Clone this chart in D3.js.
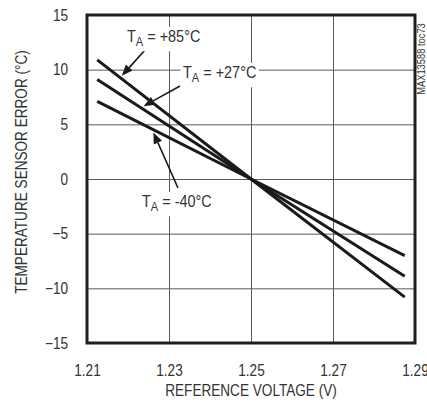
<!DOCTYPE html>
<html>
<head>
	<meta charset="UTF-8" />
	<title>temperature sensor error vs reference voltage</title>
	<script src="https://d3js.org/d3.v7.min.js"></script>
	<style type="text/css">
		body{margin:0; background:#fff;}
		svg text{font-family:"Liberation Sans Narrow","Liberation Sans",Arial,sans-serif; fill:#333;}
		.grid line{stroke:#5a5a5a; stroke-width:1;}
		.grid .domain{display:none;}
		.curve{fill:none; stroke:#1a1a1a; stroke-width:3;}
	</style>
</head>
<body>
	<svg id="chart"></svg>

	<script type="text/javascript">
	// data
	var voltage = [1.2125, 1.25, 1.2875]
	var err85 = [10.9, 0, -10.8]
	var err27 = [9.1, 0, -8.9]
	var errM40 = [7.1, 0, -7.0]
	var seriesNames = ["+85°C", "+27°C", "-40°C"]
	var xTicks = [1.21, 1.23, 1.25, 1.27, 1.29]
	var yTicks = [-15, -10, -5, 0, 5, 10, 15]

	// window
	var w = 427
	var h = 402
	var margin = {top: 15, right: 12, bottom: 59, left: 87}
	var width = w - margin.left - margin.right
	var height = h - margin.top - margin.bottom
	var squeeze = 0.85 // no condensed font installed, so squeeze text sideways

	var xScale = d3.scaleLinear().domain([1.21, 1.29]).range([0, width])
	var yScale = d3.scaleLinear().domain([-15, 15]).range([height, 0])

	var svg = d3.select("#chart").attr("width", w).attr("height", h)
	var g = svg.append("g").attr("transform", "translate(" + margin.left + "," + margin.top + ")")

	// grid + tick labels
	var yAxis = g.append("g").attr("class", "grid")
		.call(d3.axisLeft(yScale).tickValues(yTicks).tickFormat(d3.format("d"))
			.tickSizeInner(-width).tickSizeOuter(0).tickPadding(19))
	var xAxis = g.append("g").attr("class", "grid")
		.attr("transform", "translate(0," + height + ")")
		.call(d3.axisBottom(xScale).tickValues(xTicks).tickFormat(d3.format(".2f"))
			.tickSizeInner(-height).tickSizeOuter(0).tickPadding(19))
	g.selectAll(".grid text").style("font-size", "16px").attr("fill", "#333")
		.attr("transform", "scale(" + squeeze + ",1)")
	yAxis.selectAll("text").attr("x", -19 / squeeze)
	xAxis.selectAll("text").attr("y", 22)

	// series
	var series = [err85, err27, errM40]
	var line = d3.line().x((d, i) => xScale(voltage[i])).y(d => yScale(d))
	g.selectAll(".curve").data(series).enter().append("path")
		.attr("class", "curve").attr("d", d => line(d))

	// frame
	g.append("rect").attr("width", width).attr("height", height)
		.attr("fill", "none").attr("stroke", "#1e1e1e").attr("stroke-width", 3)

	// annotations
	function valueAt(s, v){
		return s[0] + (s[2] - s[0]) * (v - voltage[0]) / (voltage[2] - voltage[0])
	}
	var notes = [
		{s: 0, v: 1.2185, dy: -3, tail: [145, 50], tx: 127, ty: 42},
		{s: 1, v: 1.2238, dy: -3, tail: [180, 86], tx: 183, ty: 78},
		{s: 2, v: 1.2262, dy: 3, tail: [178, 188], tx: 142, ty: 207}
	]
	var ann = svg.append("g")
	notes.forEach(n => {
		var tipX = margin.left + xScale(n.v)
		var tipY = margin.top + yScale(valueAt(series[n.s], n.v)) + n.dy
		var dx = tipX - n.tail[0], dy = tipY - n.tail[1]
		var len = Math.sqrt(dx * dx + dy * dy)
		var ux = dx / len, uy = dy / len
		var hl = 11, hw = 4.5
		var bx = tipX - ux * hl, by = tipY - uy * hl
		ann.append("line").attr("x1", n.tail[0]).attr("y1", n.tail[1])
			.attr("x2", bx).attr("y2", by).attr("stroke", "#1a1a1a").attr("stroke-width", 1.6)
		ann.append("polygon")
			.attr("points", [[tipX, tipY], [bx - uy * hw, by + ux * hw], [bx + uy * hw, by - ux * hw]].map(p => p.join(",")).join(" "))
			.attr("fill", "#1a1a1a")

		var lg = ann.append("g").attr("transform", "translate(" + n.tx + "," + n.ty + ") scale(" + squeeze + ",1)")
		var bg = lg.append("rect").attr("fill", "#fff")
		var t = lg.append("text").style("font-size", "17px")
		t.append("tspan").text("T")
		t.append("tspan").text("A").style("font-size", "13px").attr("dy", 4)
		t.append("tspan").text(" = " + seriesNames[n.s]).attr("dy", -4)
		var b = t.node().getBBox()
		bg.attr("x", b.x - 3).attr("y", b.y).attr("width", b.width + 6).attr("height", b.height + 2)
	})

	// axis titles
	svg.append("text").attr("transform", "translate(" + (margin.left + width / 2) + ",396) scale(" + squeeze + ",1)")
		.attr("text-anchor", "middle").style("font-size", "16px").text("REFERENCE VOLTAGE (V)")
	svg.append("text").attr("transform", "translate(27,172) rotate(-90) scale(" + squeeze + ",1)")
		.attr("text-anchor", "middle").style("font-size", "16px").text("TEMPERATURE SENSOR ERROR (°C)")
	svg.append("text").attr("transform", "translate(425,59) rotate(-90) scale(" + squeeze + ",1)")
		.attr("text-anchor", "middle").style("font-size", "11px").text("MAX13588 toc73")
	</script>
</body>
</html>
